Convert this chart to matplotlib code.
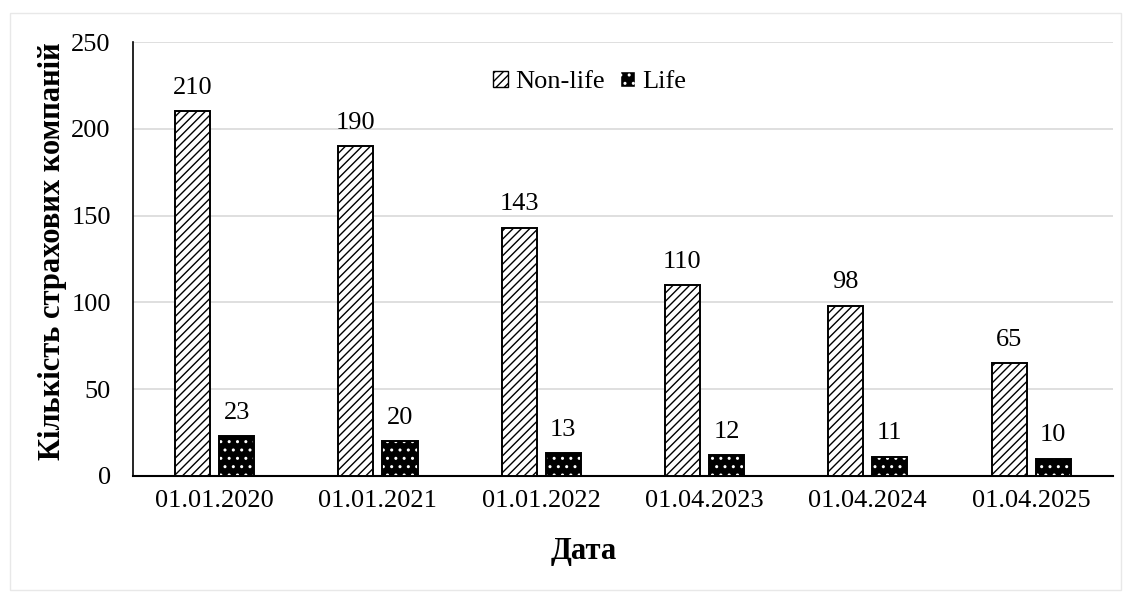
import numpy as np
import matplotlib.pyplot as plt
from matplotlib.patches import Rectangle, Patch

dates = ["01.01.2020", "01.01.2021", "01.01.2022", "01.04.2023", "01.04.2024", "01.04.2025"]
non_life = [210, 190, 143, 110, 98, 65]
life = [23, 20, 13, 12, 11, 10]

plt.rcParams["font.family"] = ["Liberation Serif", "DejaVu Serif"]
plt.rcParams["hatch.linewidth"] = 1.0

fig = plt.figure(figsize=(11.24, 5.95), dpi=100)
ax = fig.add_axes([0.1183, 0.2, 0.8717, 0.7294])

x = np.arange(len(dates))
w = 0.215
off = 0.135
fs = 19

# non-life: white with diagonal hatch
ax.bar(x - off, non_life, w, facecolor="white", edgecolor="black", hatch="////", linewidth=0, zorder=3)
ax.bar(x - off, non_life, w, fill=False, edgecolor="black", linewidth=1.4, zorder=4)
# life: black with white dots
ax.bar(x + off, life, w, facecolor="black", edgecolor="white", hatch="..", linewidth=0, zorder=3)
ax.bar(x + off, life, w, fill=False, edgecolor="black", linewidth=1.4, zorder=4)

for xi, v in zip(x - off, non_life):
    ax.annotate(str(v), (xi, v), xytext=(0, 9), textcoords="offset points",
                ha="center", va="bottom", fontsize=fs)
for xi, v in zip(x + off, life):
    ax.annotate(str(v), (xi, v), xytext=(0, 9), textcoords="offset points",
                ha="center", va="bottom", fontsize=fs)

ax.set_xlim(-0.5, len(dates) - 0.5)
ax.set_ylim(0, 250)
ax.set_yticks(range(0, 251, 50))
ax.set_xticks(x)
ax.set_xticklabels(dates)
ax.tick_params(axis="both", length=0, labelsize=fs)
ax.tick_params(axis="x", pad=10)
ax.tick_params(axis="y", pad=16)
ax.yaxis.grid(True, color="#d9d9d9", linewidth=1.2, zorder=0)
ax.set_axisbelow(True)
for s in ["top", "right"]:
    ax.spines[s].set_visible(False)
ax.spines["left"].set_linewidth(1.2)
ax.spines["bottom"].set_linewidth(1.5)

ax.set_ylabel("Кількість страхових компаній", fontsize=22, fontweight="bold")
ax.yaxis.set_label_coords(-0.067, 0.518)
ax.set_xlabel("Дата", fontsize=22, fontweight="bold")
ax.xaxis.set_label_coords(0.46, -0.14)

handles = [Patch(facecolor="white", edgecolor="black", hatch="////", label="Non-life"),
           Patch(facecolor="black", edgecolor="white", hatch="..", label="Life")]
ax.legend(handles=handles, loc="center", bbox_to_anchor=(0.466, 0.908), ncol=2,
          frameon=False, fontsize=fs, handlelength=0.55, handleheight=0.55,
          handletextpad=0.27, columnspacing=0.6, borderpad=0)

fig.patches.append(Rectangle((0.009, 0.008), 0.988, 0.97, transform=fig.transFigure,
                             fill=False, edgecolor="#e8e8e8", linewidth=1))

fig.savefig("out.png", dpi=100)
